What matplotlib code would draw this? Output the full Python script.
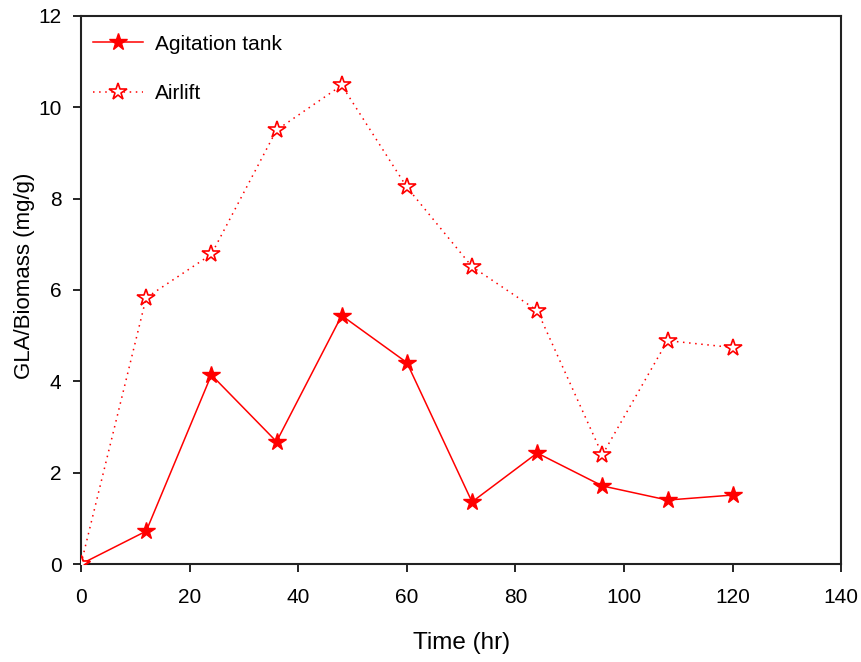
import numpy as np
import matplotlib.pyplot as plt

plt.rcParams['font.family'] = ['Liberation Sans', 'DejaVu Sans']

time_hr = [0, 12, 24, 36, 48, 60, 72, 84, 96, 108, 120]
agitation = [0.0, 0.72, 4.14, 2.68, 5.44, 4.41, 1.36, 2.43, 1.71, 1.40, 1.51]
airlift = [0.0, 5.83, 6.78, 9.50, 10.48, 8.25, 6.51, 5.55, 2.39, 4.89, 4.74]

fig = plt.figure(figsize=(8.62, 6.62), dpi=100)
ax = fig.add_axes([0.094, 0.148, 0.882, 0.828])

ax.plot(time_hr, agitation, color='red', linestyle='-', linewidth=1.1,
        marker='*', markersize=13, markerfacecolor='red', markeredgecolor='red',
        label='Agitation tank', zorder=3)
ax.plot(time_hr, airlift, color='red', linestyle=(0, (1, 3)), linewidth=1.1,
        marker='*', markersize=13, markerfacecolor='white', markeredgecolor='red',
        markeredgewidth=1.2, label='Airlift', zorder=3)

ax.set_xlim(0, 140)
ax.set_ylim(0, 12)
ax.set_xticks(np.arange(0, 141, 20))
ax.set_yticks(np.arange(0, 13, 2))
ax.tick_params(axis='both', direction='out', length=6, width=1.2,
               labelsize=15, top=False, right=False)
ax.tick_params(axis='x', pad=11)
ax.tick_params(axis='y', pad=8)
for s in ax.spines.values():
    s.set_linewidth(1.5)
    s.set_color('#222222')

ax.set_xlabel('Time (hr)', fontsize=17.5, labelpad=18)
ax.set_ylabel('GLA/Biomass (mg/g)', fontsize=16)
ax.yaxis.set_label_coords(-0.061, 0.525)

ax.legend(loc='upper left', frameon=False, fontsize=15, handlelength=2.4,
          handletextpad=0.58, labelspacing=1.45, borderaxespad=0.5,
          bbox_to_anchor=(-0.009, 1.0))

fig.savefig('out.png', dpi=100)
